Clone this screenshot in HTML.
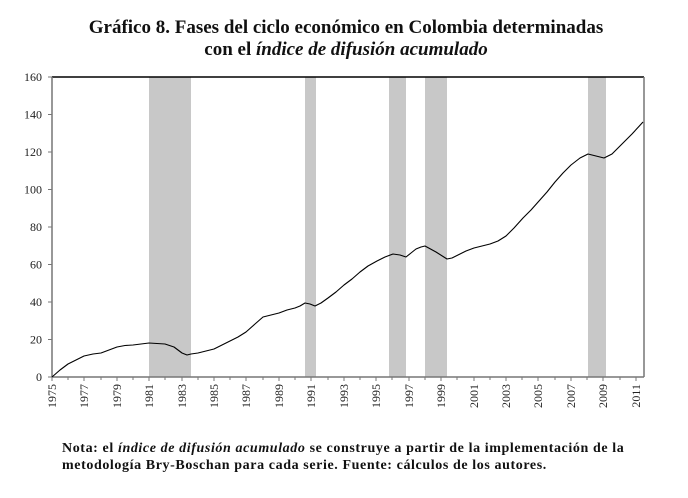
<!DOCTYPE html>
<html><head><meta charset="utf-8"><style>
body{margin:0;background:#fff;width:688px;height:498px;overflow:hidden;font-family:"Liberation Serif",serif}
.t{position:absolute;left:0;width:692px;text-align:center;font-weight:bold;font-size:19px;color:#111}
.n{position:absolute;left:62px;font-weight:bold;font-size:14px;letter-spacing:0.6px;color:#111;white-space:nowrap}
</style></head><body>
<div class="t" style="top:17px">Gráfico 8. Fases del ciclo económico en Colombia determinadas</div>
<div class="t" style="top:39px">con el <i>índice de difusión acumulado</i></div>
<svg style="position:absolute;left:0;top:0" width="688" height="498" font-family="Liberation Serif" font-size="12">
<g fill="#c8c8c8">
<rect x="149" y="77" width="42" height="300"/>
<rect x="305" y="77" width="11" height="300"/>
<rect x="389" y="77" width="17" height="300"/>
<rect x="425" y="77" width="22" height="300"/>
<rect x="588" y="77" width="18" height="300"/>
</g>
<line x1="52" y1="77" x2="644" y2="77" stroke="#000" stroke-width="1.5"/>
<line x1="644" y1="77" x2="644" y2="377" stroke="#777" stroke-width="1.5"/>
<line x1="52" y1="77" x2="52" y2="377" stroke="#777" stroke-width="1.5"/>
<line x1="52" y1="377" x2="644" y2="377" stroke="#777" stroke-width="1.5"/>
<g stroke="#777">
<line x1="48" y1="77" x2="52" y2="77"/><line x1="48" y1="114.5" x2="52" y2="114.5"/><line x1="48" y1="152" x2="52" y2="152"/><line x1="48" y1="189.5" x2="52" y2="189.5"/><line x1="48" y1="227" x2="52" y2="227"/><line x1="48" y1="264.5" x2="52" y2="264.5"/><line x1="48" y1="302" x2="52" y2="302"/><line x1="48" y1="339.5" x2="52" y2="339.5"/><line x1="48" y1="377" x2="52" y2="377"/>
</g>
<g text-anchor="end" fill="#222">
<text x="42" y="81">160</text><text x="42" y="118.5">140</text><text x="42" y="156">120</text><text x="42" y="193.5">100</text><text x="42" y="231">80</text><text x="42" y="268.5">60</text><text x="42" y="306">40</text><text x="42" y="343.5">20</text><text x="42" y="381">0</text>
</g>
<polyline fill="none" stroke="#000" stroke-width="1.1" stroke-linejoin="round" points="52,377 60,370 68,364 76,360 84,356 93,354 101,353 109,350 117,347 125,345.5 133,345 141,344 149,343 157,343.5 165,344 174,347 182,353 187,355 191,354 198,353 206,351 214,349 222,345 230,341 238,337 246,332 255,324 263,317 271,315 279,313 287,310 295,308 300,306 305,303 310,304 315,306 321,303 328,298 336,292 344,285 352,279 360,272 368,266 377,261 385,257 393,254 400,255 406,257 411,253 416,249 421,247 425,246 436,252 447,259 452,258 458,255 466,251 474,248 482,246 490,244 498,241 506,236 514,228 523,218 531,210 539,201 547,192 555,182 563,173 571,165 580,158 588,154 596,156 604,158 612,154 620,146 632,134 643,122"/>
</svg>
<svg style="position:absolute;left:0;top:0" width="688" height="498" font-family="Liberation Serif" font-size="12" fill="#222">
<g stroke="#777">
<line x1="52" y1="377" x2="52" y2="381"/><line x1="68" y1="377" x2="68" y2="380"/><line x1="84" y1="377" x2="84" y2="381"/><line x1="101" y1="377" x2="101" y2="380"/><line x1="117" y1="377" x2="117" y2="381"/><line x1="133" y1="377" x2="133" y2="380"/><line x1="149" y1="377" x2="149" y2="381"/><line x1="165" y1="377" x2="165" y2="380"/><line x1="182" y1="377" x2="182" y2="381"/><line x1="198" y1="377" x2="198" y2="380"/><line x1="214" y1="377" x2="214" y2="381"/><line x1="230" y1="377" x2="230" y2="380"/><line x1="246" y1="377" x2="246" y2="381"/><line x1="263" y1="377" x2="263" y2="380"/><line x1="279" y1="377" x2="279" y2="381"/><line x1="295" y1="377" x2="295" y2="380"/><line x1="311" y1="377" x2="311" y2="381"/><line x1="328" y1="377" x2="328" y2="380"/><line x1="344" y1="377" x2="344" y2="381"/><line x1="360" y1="377" x2="360" y2="380"/><line x1="376" y1="377" x2="376" y2="381"/><line x1="392" y1="377" x2="392" y2="380"/><line x1="409" y1="377" x2="409" y2="381"/><line x1="425" y1="377" x2="425" y2="380"/><line x1="441" y1="377" x2="441" y2="381"/><line x1="457" y1="377" x2="457" y2="380"/><line x1="474" y1="377" x2="474" y2="381"/><line x1="490" y1="377" x2="490" y2="380"/><line x1="506" y1="377" x2="506" y2="381"/><line x1="522" y1="377" x2="522" y2="380"/><line x1="538" y1="377" x2="538" y2="381"/><line x1="555" y1="377" x2="555" y2="380"/><line x1="571" y1="377" x2="571" y2="381"/><line x1="587" y1="377" x2="587" y2="380"/><line x1="603" y1="377" x2="603" y2="381"/><line x1="620" y1="377" x2="620" y2="380"/><line x1="636" y1="377" x2="636" y2="381"/>
</g>
<g text-anchor="end">
<text transform="translate(56,384) rotate(-90)">1975</text>
<text transform="translate(88,384) rotate(-90)">1977</text>
<text transform="translate(121,384) rotate(-90)">1979</text>
<text transform="translate(153,384) rotate(-90)">1981</text>
<text transform="translate(186,384) rotate(-90)">1983</text>
<text transform="translate(218,384) rotate(-90)">1985</text>
<text transform="translate(250,384) rotate(-90)">1987</text>
<text transform="translate(283,384) rotate(-90)">1989</text>
<text transform="translate(315,384) rotate(-90)">1991</text>
<text transform="translate(348,384) rotate(-90)">1993</text>
<text transform="translate(380,384) rotate(-90)">1995</text>
<text transform="translate(413,384) rotate(-90)">1997</text>
<text transform="translate(445,384) rotate(-90)">1999</text>
<text transform="translate(478,384) rotate(-90)">2001</text>
<text transform="translate(510,384) rotate(-90)">2003</text>
<text transform="translate(542,384) rotate(-90)">2005</text>
<text transform="translate(575,384) rotate(-90)">2007</text>
<text transform="translate(607,384) rotate(-90)">2009</text>
<text transform="translate(640,384) rotate(-90)">2011</text>
</g>
</svg>
<div class="n" style="top:441px">Nota: el <i>índice de difusión acumulado</i> se construye a partir de la implementación de la</div>
<div class="n" style="top:458px">metodología Bry-Boschan para cada serie. Fuente: cálculos de los autores.</div>
</body></html>
